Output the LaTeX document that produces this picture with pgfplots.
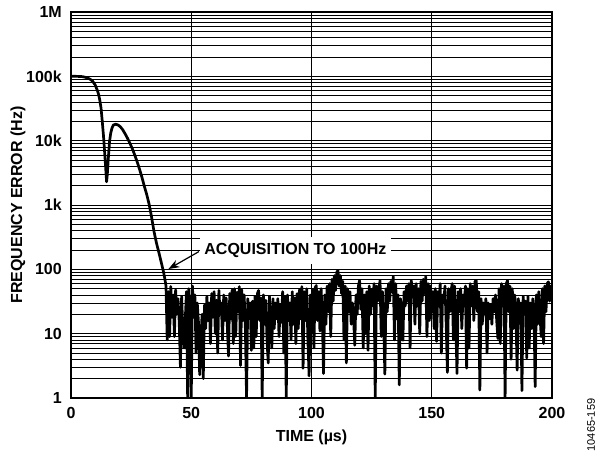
\documentclass[border=0pt]{standalone}
\usepackage{pgfplots}
\pgfplotsset{compat=1.18}
\usepackage{fontspec}
\setmainfont{Liberation Sans}
\usetikzlibrary{arrows.meta}
\begin{document}
\begin{tikzpicture}
\useasboundingbox (-71bp,-55bp) rectangle (525bp,398bp);
\begin{axis}[
  at={(0,0)}, anchor=south west,
  scale only axis, width=481bp, height=386bp,
  xmin=0, xmax=200, ymin=1, ymax=1000000,
  ymode=log, log basis y=10,
  xtick={0,50,100,150,200},
  xticklabels={0,50,100,150,200},
  ytick={1,10,100,1000,10000,100000,1000000},
  yticklabels={1,10,100,1k,10k,100k,1M},
  minor ytick={2,3,4,5,6,7,8,9,20,30,40,50,60,70,80,90,200,300,400,500,600,700,800,900,2000,3000,4000,5000,6000,7000,8000,9000,20000,30000,40000,50000,60000,70000,80000,90000,200000,300000,400000,500000,600000,700000,800000,900000},
  xmajorgrids, ymajorgrids, yminorgrids,
  major grid style={black, line width=0.8bp},
  minor grid style={black, line width=0.7bp},
  major tick length=0pt, minor tick length=0pt,
  axis line style={black, line width=1.4bp},
  tick label style={font=\fontsize{16bp}{18bp}\selectfont\bfseries, inner sep=0pt},
  xticklabel style={anchor=center, yshift=-15bp},
  yticklabel style={anchor=east, xshift=-9bp},
  xlabel={TIME (µs)},
  ylabel={FREQUENCY ERROR (Hz)},
  every axis x label/.style={at={(axis description cs:0.5,-0.101)}, anchor=center, font=\fontsize{16bp}{18bp}\selectfont\bfseries},
  every axis y label/.style={at={(axis description cs:-0.1102,0.5)}, rotate=90, anchor=center, font=\fontsize{16bp}{18bp}\selectfont\bfseries},
  clip=true,
]
\addplot[black, line width=2.7bp, line join=round] table {
x y
0 100000
2 100000
4 99500
5 98500
6 96500
7 94000
8 90000
9 84000
10 74000
11 60000
11.5 52000
12 42000
12.5 32000
13 20000
13.5 12000
14 6500
14.5 3400
14.8 2300
15.1 3000
15.5 5200
16 9500
16.5 13000
17 15500
17.6 17500
18.5 18000
19.5 17600
20.5 16500
21.5 14800
22.5 12800
23.5 10900
24.5 9100
25.5 7500
26.5 6000
27.5 4700
28.5 3600
29.5 2700
30.5 1950
31.5 1450
32.5 1020
33.5 650
34.5 390
35.5 260
36.5 185
37.5 130
38.5 90
39 72
39.5 55
40 8
40.5 45
41 9
41.5 54
42 18
42.5 40
43 9
43.5 48
44 20
44.5 35
45 15
45.5 3
46 38
46.5 12
47 6
47.5 16
48 45
48.5 1
49 50
49.5 22
50 1
50.5 55
51 18
51.5 40
52 5
52.5 30
53 15
53.5 2.3
54 8
54.5 20
55 2
55.5 28
56 12
56.5 38
57 16
57.5 30
58 7
58.5 42
59 18
59.5 45
60 10
60.5 33
61 5
61.5 47
62 20
62.5 30
63 8
63.5 40
64 16
64.5 36
65 13
65.5 4.5
66 42
66.5 17
67 48
67.5 7
68 50
68.5 9
69 44
69.5 22
70 54
70.5 3.2
71 48
71.5 16
72 40
72.5 12
73 1
73.5 35
74 18
74.5 30
75 5.5
75.5 32
76 6
76.5 38
77 9
77.5 42
78 47
78.5 16
79 36
79.5 1
80 40
80.5 14
81 33
81.5 8
82 3.5
82.5 38
83 16
83.5 6
84 35
84.5 12
85 30
85.5 17
86 35
86.5 9
87 28
87.5 15
88 45
88.5 5
89 38
89.5 1
90 40
90.5 16
91 30
91.5 8
92 45
92.5 14
93 36
93.5 7
94 42
94.5 12
95 48
95.5 17
96 54
96.5 2.9
97 45
97.5 16
98 50
98.5 8
99 2.2
99.5 40
100 14
100.5 48
101 6
101.5 52
102 56
102.5 16
103 45
103.5 11
104 50
104.5 18
105 2.4
105.5 40
106 14
106.5 55
107 22
107.5 60
108 9
108.5 70
109 32
109.5 80
110 47
110.5 90
111 96
111.5 55
112 80
112.5 42
113 65
113.5 8
114 55
114.5 3.5
115 50
115.5 22
116 45
116.5 14
117 30
117.5 17
118 6.6
118.5 40
119 20
119.5 55
120 67
120.5 24
121 50
121.5 6
122 40
122.5 10
123 45
123.5 5.5
124 55
124.5 20
125 48
125.5 27
126 60
126.5 1
127 55
127.5 32
128 50
128.5 67
129 9
129.5 45
130 16
130.5 2.35
131 50
131.5 22
132 60
132.5 32
133 65
133.5 45
134 77
134.5 8
135 60
135.5 17
136 40
136.5 1.6
137 35
137.5 22
138 7.9
138.5 45
139 27
139.5 55
140 32
140.5 60
141 6
141.5 67
142 37
142.5 55
143 14
143.5 60
144 27
144.5 50
145 10
145.5 65
146 32
146.5 70
147 42
147.5 77
148 9
148.5 60
149 16
149.5 55
150 22
150.5 45
151 12
151.5 50
152 7.6
152.5 45
153 27
153.5 60
154 5
154.5 40
155 32
155.5 55
156 14
156.5 2.5
157 50
157.5 22
158 45
158.5 60
159 8
159.5 55
160 14
160.5 2.4
161 45
161.5 22
162 50
162.5 12
163 40
163.5 27
164 55
164.5 2.9
165 50
165.5 6
166 60
166.5 27
167 55
167.5 16
168 65
168.5 67
169 22
169.5 45
170 1.33
170.5 35
171 14
171.5 30
172 20
172.5 35
173 5
173.5 30
174 17
174.5 28
175 14
175.5 35
176 22
176.5 40
177 16
177.5 8.4
178 50
178.5 7
179 60
179.5 27
180 55
180.5 1
181 60
181.5 67
182 22
182.5 55
183 4
183.5 50
184 12
184.5 40
185 20
185.5 2.7
186 35
186.5 16
187 30
187.5 1.3
188 38
188.5 22
189 32
189.5 4.2
190 38
190.5 6
191 30
191.5 12
192 35
192.5 22
193 1.5
193.5 40
194 14
194.5 45
195 20
195.5 9
196 50
196.5 7
197 55
197.5 22
198 60
198.5 64
199 32
199.5 55
200 40
};
\draw[black, line width=1.2bp, -{Stealth[length=11bp, width=8bp]}] (axis cs:53.2,189) -- (axis cs:40.5,101);
\node[fill=white, inner xsep=4.5bp, inner ysep=0pt, minimum height=27bp, font=\fontsize{16bp}{18bp}\selectfont\bfseries] at (axis cs:93.3,196) {ACQUISITION TO 100Hz};
\end{axis}
\node[rotate=90, font=\fontsize{11bp}{13bp}\selectfont, inner sep=0pt] at (520bp,-27bp) {10465-159};
\end{tikzpicture}
\end{document}
